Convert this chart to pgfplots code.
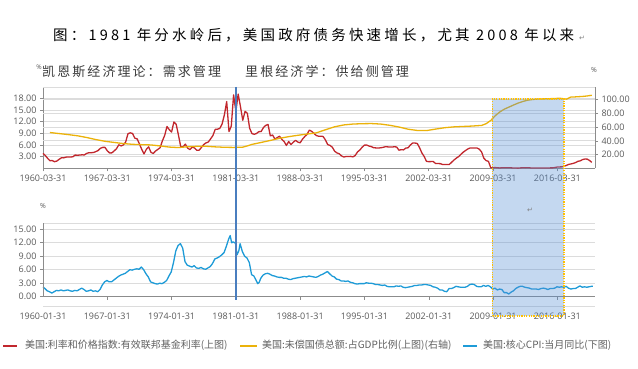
\documentclass[border=0pt]{standalone}
\usepackage{pgfplots}
\pgfplotsset{compat=1.18}
\usepackage{fontspec}
\setmainfont{Open Sans}
\newfontfamily\cjk{Noto Sans CJK SC}
\newfontfamily\cjktitle[LetterSpace=22]{Noto Sans CJK SC}
\newfontfamily\cjkann[LetterSpace=16]{Noto Sans CJK SC}
\newfontfamily\sym{DejaVu Sans}
\definecolor{ffrc}{HTML}{C1272D}
\definecolor{debtc}{HTML}{EBB20A}
\definecolor{cpic}{HTML}{1E9BD7}
\definecolor{vlinec}{HTML}{4A7EBF}
\definecolor{shadec}{HTML}{558ED5}
\definecolor{shborderc}{HTML}{FFC000}
\definecolor{gridc}{HTML}{DCDCDC}
\definecolor{axisc}{HTML}{8C8C8C}
\definecolor{labc}{HTML}{595959}
\definecolor{legc}{HTML}{606060}
\definecolor{annc}{HTML}{3A3A3A}
\pgfplotsset{
  base/.style={
    scale only axis, width=552pt, anchor=south west, clip=false,
    tick align=outside, major tick length=3pt,
    tick style={axisc, line width=0.6pt},
    axis line style={axisc, line width=0.8pt, -},
    every tick label/.append style={font=\fontsize{9}{10}\selectfont, text=labc},
    grid style={gridc, line width=0.7pt},
    every axis plot/.append style={line width=1.3pt, line join=round, mark=none},
  }
}
\begin{document}
\begin{tikzpicture}
\path[use as bounding box] (0pt,0pt) rectangle (638pt,369pt);

% legend (drawn first)
\path[fill=ffrc] (3pt,22.3pt) rectangle (17pt,24.3pt);
\node[anchor=west, inner sep=0pt, text=legc] at (25pt,23.3pt) {\cjk\fontsize{10}{12}\selectfont 美国:利率和价格指数:有效联邦基金利率(上图)};
\path[fill=debtc] (240pt,22.3pt) rectangle (257pt,24.3pt);
\node[anchor=west, inner sep=0pt, text=legc] at (262pt,23.3pt) {\cjk\fontsize{10}{12}\selectfont 美国:未偿国债总额:占GDP比例(上图)(右轴)};
\path[fill=cpic] (463pt,22.3pt) rectangle (477pt,24.3pt);
\node[anchor=west, inner sep=0pt, text=legc] at (483pt,23.3pt) {\cjk\fontsize{10}{12}\selectfont 美国:核心CPI:当月同比(下图)};

% ---------------- top panel: left axis (fed funds rate)
\begin{axis}[base,
  at={(43pt,200.6pt)}, height=81.4pt,
  xmin=1960.25, xmax=2020.35, ymin=0, ymax=20.93,
  axis x line*=bottom, axis y line*=left,
  xtick={1960.25,1967.25,1974.25,1981.25,1988.25,1995.25,2002.25,2009.25,2016.25},
  xticklabels={1960-03-31,1967-03-31,1974-03-31,1981-03-31,1988-03-31,1995-03-31,2002-03-31,2009-03-31,2016-03-31},
  ytick={3,6,9,12,15,18},
  yticklabels={3.00,6.00,9.00,12.00,15.00,18.00},
  ymajorgrids,
  extra y ticks={3.547,7.095,10.64,14.19,17.74,20.93},
  extra y tick labels={},
  extra y tick style={grid=major, major tick length=0pt},
]
\addplot[color=ffrc] coordinates {
(1960.25,3.84)(1960.50,3.32)(1960.75,2.60)(1961.00,1.98)
(1961.25,2.02)(1961.50,1.73)(1961.75,1.88)(1962.00,2.33)
(1962.25,2.72)(1962.50,2.71)(1962.75,2.90)(1963.00,2.93)
(1963.25,2.93)(1963.50,2.99)(1963.75,3.43)(1964.00,3.38)
(1964.25,3.43)(1964.50,3.50)(1964.75,3.45)(1965.00,3.85)
(1965.25,4.04)(1965.50,4.04)(1965.75,4.08)(1966.00,4.32)
(1966.25,4.60)(1966.50,5.17)(1966.75,5.40)(1967.00,5.40)
(1967.25,4.53)(1967.50,3.98)(1967.75,3.99)(1968.00,4.51)
(1968.25,5.05)(1968.50,6.07)(1968.75,5.78)(1969.00,6.02)
(1969.25,6.79)(1969.50,8.90)(1969.75,9.15)(1970.00,8.97)
(1970.25,7.76)(1970.50,7.60)(1970.75,6.29)(1971.00,4.90)
(1971.25,3.71)(1971.50,4.91)(1971.75,5.55)(1972.00,4.14)
(1972.25,3.83)(1972.50,4.46)(1972.75,4.87)(1973.00,5.33)
(1973.25,7.09)(1973.50,8.49)(1973.75,10.78)(1974.00,9.95)
(1974.25,9.35)(1974.50,11.93)(1974.75,11.34)(1975.00,8.53)
(1975.25,5.54)(1975.50,5.55)(1975.75,6.24)(1976.00,5.20)
(1976.25,4.84)(1976.50,5.48)(1976.75,5.25)(1977.00,4.65)
(1977.25,4.69)(1977.50,5.39)(1977.75,6.14)(1978.00,6.56)
(1978.25,6.79)(1978.50,7.60)(1978.75,8.45)(1979.00,10.03)
(1979.25,10.09)(1979.50,10.29)(1979.75,11.43)(1980.00,13.78)
(1980.25,17.19)(1980.50,9.47)(1980.75,10.87)(1981.00,18.90)
(1981.25,14.70)(1981.50,19.10)(1981.75,15.87)(1982.00,12.37)
(1982.25,14.68)(1982.50,14.15)(1982.75,10.31)(1983.00,8.95)
(1983.25,8.77)(1983.50,8.98)(1983.75,9.45)(1984.00,9.47)
(1984.25,10.50)(1984.50,11.06)(1984.75,11.30)(1985.00,8.38)
(1985.25,8.58)(1985.50,7.53)(1985.75,7.92)(1986.00,8.27)
(1986.25,7.48)(1986.50,6.92)(1986.75,5.89)(1987.00,6.91)
(1987.25,6.13)(1987.50,6.73)(1987.75,7.22)(1988.00,6.77)
(1988.25,6.58)(1988.50,7.51)(1988.75,8.19)(1989.00,8.76)
(1989.25,9.85)(1989.50,9.53)(1989.75,9.01)(1990.00,8.45)
(1990.25,8.28)(1990.50,8.29)(1990.75,8.20)(1991.00,7.31)
(1991.25,6.12)(1991.50,5.90)(1991.75,5.45)(1992.00,4.43)
(1992.25,3.98)(1992.50,3.76)(1992.75,3.22)(1993.00,2.92)
(1993.25,3.07)(1993.50,3.04)(1993.75,3.09)(1994.00,2.96)
(1994.25,3.34)(1994.50,4.25)(1994.75,4.73)(1995.00,5.45)
(1995.25,5.98)(1995.50,6.00)(1995.75,5.74)(1996.00,5.60)
(1996.25,5.31)(1996.50,5.27)(1996.75,5.24)(1997.00,5.29)
(1997.25,5.39)(1997.50,5.56)(1997.75,5.54)(1998.00,5.50)
(1998.25,5.49)(1998.50,5.56)(1998.75,5.51)(1999.00,4.68)
(1999.25,4.81)(1999.50,4.76)(1999.75,5.22)(2000.00,5.30)
(2000.25,6.02)(2000.50,6.53)(2000.75,6.52)(2001.00,6.40)
(2001.25,5.31)(2001.50,3.97)(2001.75,3.07)(2002.00,1.82)
(2002.25,1.73)(2002.50,1.75)(2002.75,1.75)(2003.00,1.24)
(2003.25,1.25)(2003.50,1.22)(2003.75,1.01)(2004.00,0.98)
(2004.25,1.00)(2004.50,1.03)(2004.75,1.61)(2005.00,2.16)
(2005.25,2.63)(2005.50,3.04)(2005.75,3.62)(2006.00,4.16)
(2006.25,4.59)(2006.50,4.99)(2006.75,5.25)(2007.00,5.24)
(2007.25,5.26)(2007.50,5.25)(2007.75,4.94)(2008.00,4.24)
(2008.25,2.61)(2008.50,2.00)(2008.75,1.81)(2009.00,0.16)
(2009.25,0.18)(2009.50,0.21)(2009.75,0.15)(2010.00,0.12)
(2010.25,0.16)(2010.50,0.18)(2010.75,0.19)(2011.00,0.18)
(2011.25,0.14)(2011.50,0.09)(2011.75,0.08)(2012.00,0.07)
(2012.25,0.13)(2012.50,0.16)(2012.75,0.14)(2013.00,0.16)
(2013.25,0.14)(2013.50,0.09)(2013.75,0.08)(2014.00,0.09)
(2014.25,0.08)(2014.50,0.10)(2014.75,0.09)(2015.00,0.12)
(2015.25,0.11)(2015.50,0.13)(2015.75,0.14)(2016.00,0.24)
(2016.25,0.36)(2016.50,0.38)(2016.75,0.40)(2017.00,0.54)
(2017.25,0.79)(2017.50,1.04)(2017.75,1.15)(2018.00,1.30)
(2018.25,1.51)(2018.50,1.82)(2018.75,1.95)(2019.00,2.27)
(2019.25,2.41)(2019.50,2.38)(2019.75,2.04)(2020.00,1.55)
};
\end{axis}

% ---------------- top panel: right axis (debt / GDP)
\begin{axis}[base,
  at={(43pt,200.6pt)}, height=81.4pt,
  xmin=1960.25, xmax=2020.35, ymin=0, ymax=118,
  axis x line=none, axis y line*=right,
  ytick={20,40,60,80,100},
  yticklabels={20.00,40.00,60.00,80.00,100.00},
]
\addplot[color=debtc] coordinates {
(1961.00,52.0)(1962.00,50.5)(1963.00,49.0)(1964.00,47.3)(1965.00,44.8)
(1966.00,41.8)(1967.00,39.3)(1968.00,37.6)(1969.00,36.0)(1970.00,34.9)
(1971.00,34.4)(1972.00,34.0)(1973.00,32.6)(1974.00,30.9)(1975.00,30.2)
(1976.00,31.4)(1977.00,32.0)(1978.00,32.1)(1979.00,31.2)(1980.00,30.6)
(1981.00,30.4)(1982.00,30.8)(1982.50,32.6)(1983.00,34.8)(1984.00,37.6)
(1985.00,40.5)(1986.00,43.6)(1987.00,46.0)(1988.00,48.0)(1989.00,49.8)
(1990.00,51.5)(1991.00,56.0)(1992.00,60.3)(1993.00,63.0)(1994.00,64.3)
(1995.00,64.8)(1996.00,65.0)(1997.00,64.3)(1998.00,62.5)(1999.00,60.0)
(2000.00,56.8)(2001.00,55.0)(2002.00,54.8)(2003.00,57.0)(2004.00,59.0)
(2005.00,60.2)(2006.00,60.8)(2007.00,61.4)(2008.00,62.3)(2008.50,64.8)
(2009.00,69.5)(2009.50,76.5)(2010.00,82.0)(2010.50,86.0)(2011.00,89.0)
(2011.50,92.0)(2012.00,94.8)(2012.50,97.0)(2013.00,98.8)(2013.50,99.8)
(2014.00,100.4)(2015.00,100.9)(2016.00,101.3)(2016.50,101.8)(2017.00,100.8)
(2017.25,100.4)(2017.75,103.6)(2018.00,103.5)(2019.00,104.3)(2019.50,105.0)
(2020.00,106.0)
};
\end{axis}

% ---------------- bottom panel: core CPI
\begin{axis}[base,
  at={(43pt,62.3pt)}, height=83.4pt,
  xmin=1960.08, xmax=2020.18, ymin=-2.23, ymax=16.33,
  axis x line*=bottom, axis y line*=left,
  x axis line style={draw=gridc},
  y axis line style={draw=none},
  xtick style={draw=none},
  xtick={1960.08,1967.08,1974.08,1981.08,1988.08,1995.08,2002.08,2009.08,2016.08},
  xticklabels={1960-01-31,1967-01-31,1974-01-31,1981-01-31,1988-01-31,1995-01-31,2002-01-31,2009-01-31,2016-01-31},
  ytick={0,3,6,9,12,15},
  yticklabels={0.00,3.00,6.00,9.00,12.00,15.00},
  ymajorgrids,
  extra y ticks={16.33},
  extra y tick labels={},
  extra y tick style={grid=major, major tick length=0pt},
]
\addplot[color=cpic] coordinates {
(1960.08,2.2)(1960.29,1.8)(1960.54,1.3)(1960.79,1.1)
(1961.04,0.8)(1961.29,1.1)(1961.54,1.4)(1961.79,1.3)
(1962.04,1.5)(1962.29,1.3)(1962.54,1.4)(1962.79,1.5)
(1963.04,1.3)(1963.29,1.2)(1963.54,1.4)(1963.79,1.3)
(1964.04,1.6)(1964.29,1.9)(1964.54,1.6)(1964.79,1.2)
(1965.04,1.3)(1965.29,1.5)(1965.54,1.2)(1965.79,1.3)
(1966.04,1.1)(1966.29,1.6)(1966.54,2.6)(1966.79,3.3)
(1967.04,3.6)(1967.29,3.3)(1967.54,3.3)(1967.79,3.7)
(1968.04,4.1)(1968.29,4.5)(1968.54,4.8)(1968.79,5.0)
(1969.04,5.2)(1969.29,5.6)(1969.54,6.0)(1969.79,5.9)
(1970.04,6.1)(1970.29,6.2)(1970.54,6.1)(1970.79,6.6)
(1971.04,6.0)(1971.29,5.1)(1971.54,4.4)(1971.79,3.3)
(1972.04,3.1)(1972.29,2.9)(1972.54,2.8)(1972.79,3.0)
(1973.04,2.9)(1973.29,3.2)(1973.54,3.6)(1973.79,4.6)
(1974.04,5.5)(1974.29,7.6)(1974.54,10.2)(1974.79,11.4)
(1975.04,11.8)(1975.29,10.8)(1975.54,7.8)(1975.79,7.0)
(1976.04,6.8)(1976.29,6.6)(1976.54,6.9)(1976.79,6.4)
(1977.04,6.3)(1977.29,6.5)(1977.54,6.2)(1977.79,6.1)
(1978.04,6.4)(1978.29,6.7)(1978.54,7.4)(1978.79,8.4)
(1979.04,8.6)(1979.29,8.9)(1979.54,9.3)(1979.79,9.8)
(1980.04,11.2)(1980.29,12.8)(1980.46,13.6)(1980.62,12.0)(1980.79,12.2)
(1981.04,11.9)(1981.20,9.3)(1981.40,10.2)(1981.54,11.8)(1981.79,10.0)
(1982.04,9.0)(1982.29,8.6)(1982.54,7.6)(1982.79,4.9)
(1983.04,4.6)(1983.29,3.6)(1983.46,2.9)(1983.62,3.2)(1983.79,4.1)
(1984.04,4.8)(1984.29,5.1)(1984.54,5.2)(1984.79,5.0)
(1985.04,4.7)(1985.29,4.6)(1985.54,4.4)(1985.79,4.3)
(1986.04,4.3)(1986.29,4.1)(1986.54,4.1)(1986.79,3.9)
(1987.04,3.8)(1987.29,4.0)(1987.54,4.1)(1987.79,4.2)
(1988.04,4.3)(1988.29,4.4)(1988.54,4.5)(1988.79,4.4)
(1989.04,4.6)(1989.29,4.5)(1989.54,4.4)(1989.79,4.3)
(1990.04,4.5)(1990.29,4.8)(1990.54,5.0)(1990.79,5.3)
(1991.04,5.6)(1991.29,5.1)(1991.54,4.6)(1991.79,4.4)
(1992.04,3.9)(1992.29,3.8)(1992.54,3.5)(1992.79,3.5)
(1993.04,3.4)(1993.29,3.5)(1993.54,3.2)(1993.79,3.1)
(1994.04,2.9)(1994.29,2.8)(1994.54,2.9)(1994.79,2.9)
(1995.04,2.9)(1995.29,3.1)(1995.54,3.0)(1995.79,3.0)
(1996.04,2.9)(1996.29,2.7)(1996.54,2.7)(1996.79,2.6)
(1997.04,2.5)(1997.29,2.6)(1997.54,2.3)(1997.79,2.2)
(1998.04,2.2)(1998.29,2.2)(1998.54,2.4)(1998.79,2.3)
(1999.04,2.4)(1999.29,2.1)(1999.54,2.0)(1999.79,2.1)
(2000.04,2.2)(2000.29,2.3)(2000.54,2.5)(2000.79,2.5)
(2001.04,2.6)(2001.29,2.6)(2001.54,2.7)(2001.79,2.7)
(2002.04,2.6)(2002.29,2.5)(2002.54,2.2)(2002.79,2.1)
(2003.04,1.9)(2003.29,1.5)(2003.54,1.5)(2003.79,1.2)
(2004.04,1.1)(2004.29,1.8)(2004.54,1.8)(2004.79,2.0)
(2005.04,2.3)(2005.29,2.2)(2005.54,2.1)(2005.79,2.1)
(2006.04,2.1)(2006.29,2.3)(2006.54,2.7)(2006.79,2.8)
(2007.04,2.7)(2007.29,2.3)(2007.54,2.2)(2007.79,2.2)
(2008.04,2.5)(2008.29,2.3)(2008.54,2.5)(2008.79,2.2)
(2009.04,1.7)(2009.29,1.9)(2009.54,1.5)(2009.79,1.7)
(2010.04,1.6)(2010.29,0.9)(2010.54,0.9)(2010.79,0.6)
(2011.04,1.0)(2011.29,1.3)(2011.54,1.8)(2011.79,2.1)
(2012.04,2.3)(2012.29,2.3)(2012.54,2.1)(2012.79,2.0)
(2013.04,1.9)(2013.29,1.7)(2013.54,1.7)(2013.79,1.7)
(2014.04,1.6)(2014.29,1.8)(2014.54,1.9)(2014.79,1.8)
(2015.04,1.6)(2015.29,1.8)(2015.54,1.8)(2015.79,1.9)
(2016.04,2.2)(2016.29,2.1)(2016.54,2.2)(2016.79,2.1)
(2017.04,2.3)(2017.29,1.9)(2017.54,1.7)(2017.79,1.8)
(2018.04,1.8)(2018.29,2.1)(2018.54,2.4)(2018.79,2.1)
(2019.04,2.2)(2019.29,2.1)(2019.54,2.2)(2019.79,2.3)(2019.96,2.3)
};
\end{axis}

% bottom panel axis lines and tick marks (zero line)
\draw[draw=axisc, line width=0.8pt] (43pt,145.7pt) -- (43pt,72.3pt) -- (595pt,72.3pt);
\foreach \xx in {107.3,171.6,235.9,300.2,364.5,428.8,493.1,557.4}{
  \draw[draw=axisc, line width=0.6pt] (\xx pt,72.3pt) -- (\xx pt,69.3pt);
}

% ---------------- annotations
\draw[draw=vlinec, line width=1.4pt] (236pt,282pt) -- (236pt,69pt);
\fill[fill=shadec, fill opacity=0.35] (492.3pt,53pt) rectangle (564pt,270pt);
\draw[draw=shborderc, line width=1.1pt, dash pattern=on 1.2pt off 1.2pt] (492.3pt,53pt) rectangle (564pt,270pt);

% titles and labels
\node[anchor=west, inner sep=0pt] at (53pt,334pt) {\cjktitle\fontsize{14.5}{16}\selectfont 图：1981 年分水岭后，美国政府债务快速增长，尤其 2008 年以来};
\node[anchor=west, inner sep=0pt, text=gray] at (579pt,331pt) {\sym\fontsize{7}{8}\selectfont ↵};
\node[anchor=west, inner sep=0pt, text=annc] at (42pt,297pt) {\cjkann\fontsize{13}{14}\selectfont 凯恩斯经济理论：需求管理};
\node[anchor=west, inner sep=0pt, text=annc] at (245pt,297pt) {\cjkann\fontsize{13}{14}\selectfont 里根经济学：供给侧管理};
\node[inner sep=0pt, text=labc] at (39pt,302pt) {\fontsize{6.5}{7}\selectfont \%};
\node[inner sep=0pt, text=labc] at (594pt,299pt) {\fontsize{7}{8}\selectfont \%};
\node[inner sep=0pt, text=labc] at (43pt,163pt) {\fontsize{7}{8}\selectfont \%};
\node[inner sep=0pt, text=gray] at (530pt,159pt) {\sym\fontsize{7}{8}\selectfont ↵};
\end{tikzpicture}
\end{document}
